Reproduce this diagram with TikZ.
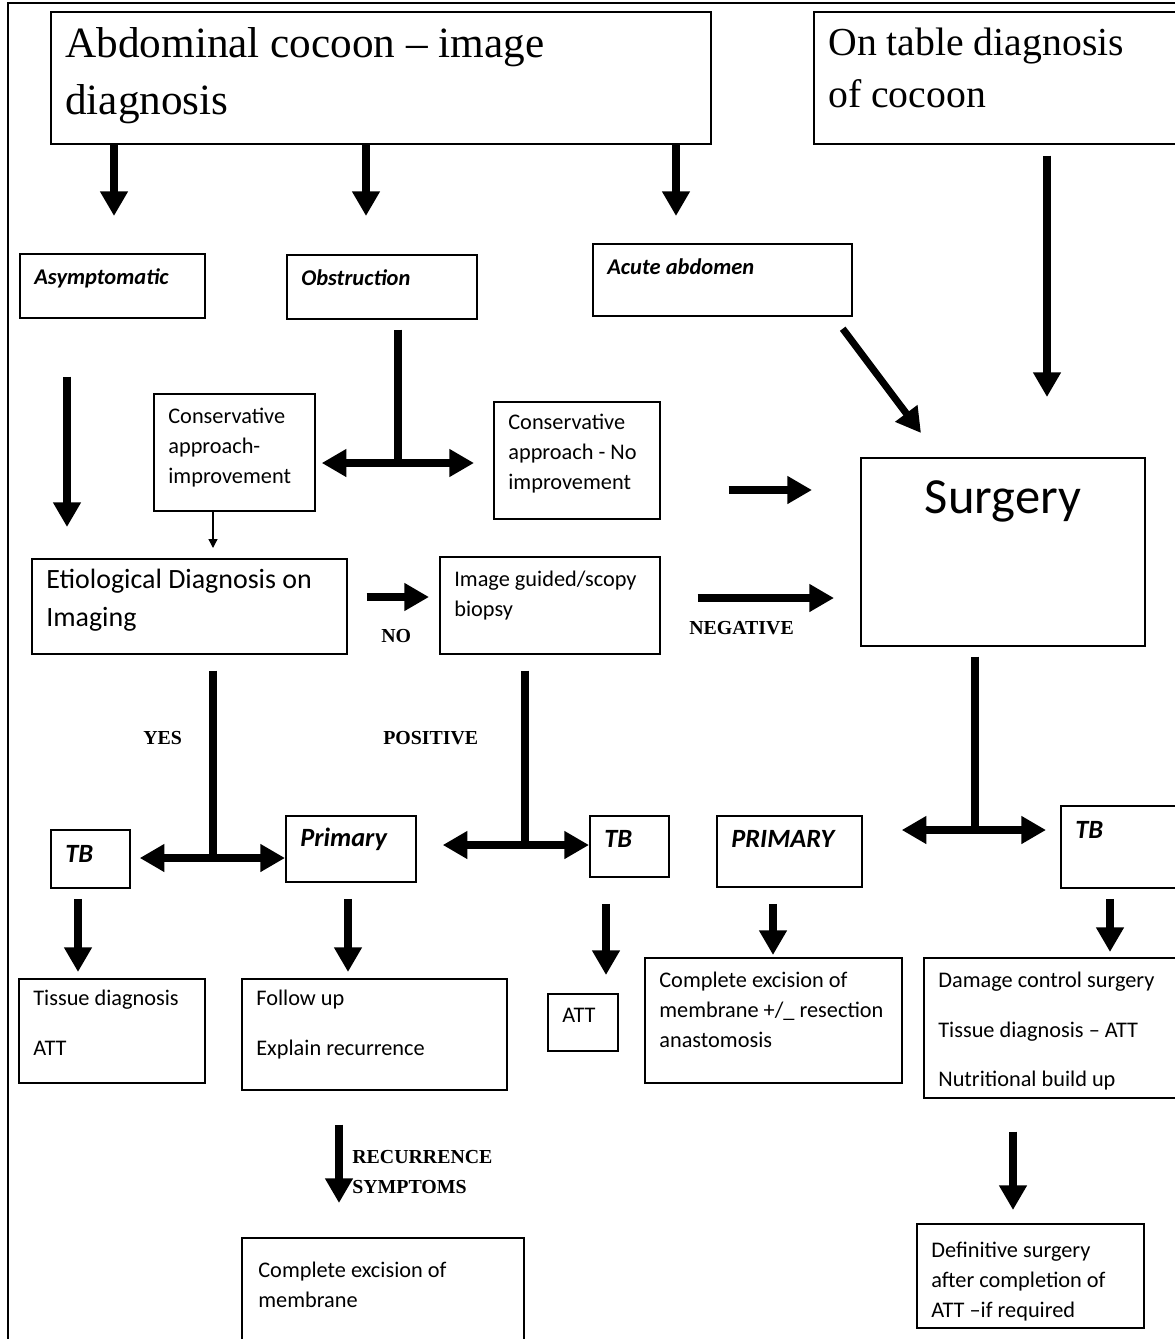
\documentclass[tikz,border=0pt]{standalone}
\usepackage{fontspec}
\setmainfont{Carlito}
\newfontfamily\serifnt{Liberation Serif}
\usetikzlibrary{arrows.meta}

\tikzset{
  box/.style={draw, line width=1pt, anchor=north west, inner sep=0pt},
  tl/.style={anchor=north west, align=left, inner xsep=0.3cm, inner ysep=0.3cm},
  smalltxt/.style={font=\fontsize{12.7}{17}\selectfont},
  widetxt/.style={font=\fontsize{12.7}{28.3}\selectfont},
  optxt/.style={font=\fontsize{12.8}{15}\selectfont\bfseries\itshape},
  bigop/.style={font=\fontsize{15}{18}\selectfont\bfseries\itshape},
  fat/.style={line width=4pt, -{Triangle[width=15pt,length=14pt]}},
  dbl/.style={line width=4pt, {Triangle[width=15pt,length=14pt]}-{Triangle[width=15pt,length=14pt]}},
  stem/.style={line width=4pt},
  thinarr/.style={line width=0.7pt, -{Triangle[width=5pt,length=5pt]}},
  cue/.style={font=\serifnt\fontsize{11.3}{17}\selectfont\bfseries, inner sep=0pt, anchor=base west},
}

\begin{document}
\begin{tikzpicture}[x=0.02cm, y=-0.02cm]
  \useasboundingbox (0,0) rectangle (1175,1339);
  \clip (0,0) rectangle (1175,1339);
  \draw[line width=1.2pt] (8,3) rectangle (1200,1360);

  % top row
  \node[box, minimum width=13.2cm, minimum height=2.64cm,
        label={[tl, inner ysep=0.33cm, font=\serifnt\fontsize{24.6}{32.3}\selectfont]north west:{Abdominal cocoon – image\\diagnosis}}] (title) at (50,11) {};
  \node[box, minimum width=7.6cm, minimum height=2.64cm,
        label={[tl, inner ysep=0.33cm, font=\serifnt\fontsize{22.6}{29.5}\selectfont]north west:{On table diagnosis\\of cocoon}}] (ontable) at (813,11) {};

  \node[box, minimum width=3.7cm, minimum height=1.28cm, label={[tl,optxt]north west:Asymptomatic}] (asym) at (19,253) {};
  \node[box, minimum width=3.8cm, minimum height=1.28cm, label={[tl,optxt]north west:Obstruction}] (obstr) at (286,254) {};
  \node[box, minimum width=5.18cm, minimum height=1.44cm, label={[tl,optxt]north west:Acute abdomen}] (acute) at (592,243) {};

  % middle
  \node[box, minimum width=3.22cm, minimum height=2.34cm,
        label={[tl,smalltxt]north west:{Conservative\\approach-\\improvement}}] (consyes) at (153,393) {};
  \node[box, minimum width=3.32cm, minimum height=2.34cm,
        label={[tl,smalltxt, inner ysep=0.26cm]north west:{Conservative\\approach - No\\improvement}}] (consno) at (493,401) {};
  \node[box, minimum width=6.3cm, minimum height=1.9cm,
        label={[tl, inner ysep=0.22cm, font=\fontsize{15.9}{21.5}\selectfont]north west:{Etiological Diagnosis on\\Imaging}}] (etio) at (31,558) {};
  \node[box, minimum width=4.4cm, minimum height=1.94cm,
        label={[tl,smalltxt]north west:{Image guided/scopy\\biopsy}}] (biopsy) at (439,556) {};
  \node[box, minimum width=5.68cm, minimum height=3.76cm,
        label={[anchor=north, inner sep=0.46cm, font=\fontsize{28.8}{34}\selectfont]north:Surgery}] (surgery) at (860,457) {};

  % second split
  \node[box, minimum width=1.58cm, minimum height=1.16cm, label={[tl,bigop, inner ysep=0.32cm]north west:TB}] (tbA) at (50,829) {};
  \node[box, minimum width=2.6cm, minimum height=1.32cm, label={[tl,bigop, inner ysep=0.26cm]north west:Primary}] (primA) at (285,815) {};
  \node[box, minimum width=1.58cm, minimum height=1.22cm, label={[tl,bigop]north west:TB}] (tbB) at (589,815) {};
  \node[box, minimum width=2.9cm, minimum height=1.42cm, label={[tl,bigop]north west:PRIMARY}] (primB) at (716,815) {};
  \node[box, minimum width=2.6cm, minimum height=1.64cm, label={[tl,bigop, inner ysep=0.32cm]north west:TB}] (tbC) at (1060,805) {};

  % outcomes
  \node[box, minimum width=3.72cm, minimum height=2.08cm,
        label={[tl,widetxt, inner ysep=0.23cm]north west:{Tissue diagnosis\\ATT}}] (tissue) at (18,978) {};
  \node[box, minimum width=5.3cm, minimum height=2.22cm,
        label={[tl,widetxt, inner ysep=0.23cm]north west:{Follow up\\Explain recurrence}}] (follow) at (241,978) {};
  \node[box, minimum width=1.4cm, minimum height=1.14cm,
        label={[tl,smalltxt]north west:ATT}] (attB) at (547,993) {};
  \node[box, minimum width=5.14cm, minimum height=2.5cm,
        label={[tl,smalltxt, inner ysep=0.29cm]north west:{Complete excision of\\membrane +/\_ resection\\anastomosis}}] (excise) at (644,957) {};
  \node[box, minimum width=5.4cm, minimum height=2.8cm,
        label={[tl,widetxt, inner ysep=0.29cm]north west:{Damage control surgery\\Tissue diagnosis – ATT\\Nutritional build up}}] (damage) at (923,957) {};
  \node[box, minimum width=5.64cm, minimum height=2.4cm,
        label={[tl,smalltxt, inner xsep=0.34cm, inner ysep=0.49cm]north west:{Complete excision of\\membrane}}] (excmem) at (241,1237) {};
  \node[box, minimum width=4.54cm, minimum height=2.08cm,
        label={[tl,smalltxt, inner ysep=0.37cm]north west:{Definitive surgery\\after completion of\\ATT –if required}}] (defin) at (916,1223) {};

  % arrow ends
  \coordinate (a1) at (114,216);
  \coordinate (a2) at (366,216);
  \coordinate (a3) at (676,216);
  \coordinate (a4) at (1047,397);
  \coordinate (a5) at (67,527);
  \coordinate (s1) at (398,463);
  \coordinate (c1) at (213,548);
  \coordinate (a6) at (812,490);
  \coordinate (a7) at (429,597);
  \coordinate (a8) at (834,598);
  \coordinate (a9) at (921,433);
  \coordinate (s2) at (213,858);
  \coordinate (s3) at (525,845);
  \coordinate (s4) at (975,830);
  \coordinate (b1) at (78,972);
  \coordinate (b2) at (348,972);
  \coordinate (b3) at (606,975);
  \coordinate (b4) at (773,955);
  \coordinate (b5) at (1110,952);
  \coordinate (b6) at (339,1203);
  \coordinate (b7) at (1013,1210);

  % connectors
  \draw[fat] (title.south -| a1) -- (a1);
  \draw[fat] (title.south -| a2) -- (a2);
  \draw[fat] (title.south -| a3) -- (a3);
  \draw[fat, shorten <=0.22cm] (ontable.south -| a4) -- (a4);
  \draw[fat, shorten <=1.16cm] (asym.south -| a5) -- (a5);
  \draw[stem, shorten <=0.2cm] (obstr.south -| s1) -- (s1);
  \draw[dbl, shorten <=0.12cm, shorten >=0.38cm] (consyes.east |- s1) -- (consno.west |- s1);
  \draw[thinarr] (consyes.south -| c1) -- (c1);
  \draw[fat, shorten <=1.36cm] (consno.east |- a6) -- (a6);
  \draw[fat, shorten <=0.38cm] (etio.east |- a7) -- (a7);
  \draw[fat, shorten <=0.74cm] (biopsy.east |- a8) -- (a8);
  \draw[fat, shorten <=0.3cm] ([xshift=-0.38cm]acute.south east) -- (a9);

  \draw[stem, shorten <=0.32cm] (etio.south -| s2) -- (s2);
  \draw[dbl, shorten <=0.18cm] (tbA.east |- s2) -- (primA.west |- s2);
  \draw[stem, shorten <=0.32cm] (biopsy.south -| s3) -- (s3);
  \draw[dbl, shorten <=0.52cm] (primA.east |- s3) -- (tbB.west |- s3);
  \draw[stem, shorten <=0.2cm] (surgery.south -| s4) -- (s4);
  \draw[dbl, shorten <=0.78cm, shorten >=0.28cm] (primB.east |- s4) -- (tbC.west |- s4);

  \draw[fat, shorten <=0.2cm] (tbA.south -| b1) -- (b1);
  \draw[fat, shorten <=0.32cm] (primA.south -| b2) -- (b2);
  \draw[fat, shorten <=0.52cm] (tbB.south -| b3) -- (b3);
  \draw[fat, shorten <=0.32cm] (primB.south -| b4) -- (b4);
  \draw[fat, shorten <=0.2cm] (tbC.south -| b5) -- (b5);
  \draw[fat, shorten <=0.68cm] (follow.south -| b6) -- (b6);
  \draw[fat, shorten <=0.66cm] (damage.south -| b7) -- (b7);

  % branch labels
  \node[cue] (lno) at (381,642) {NO};
  \node[cue] (lneg) at (689,634) {NEGATIVE};
  \node[cue] (lyes) at (143,744) {YES};
  \node[cue] (lpos) at (383,744) {POSITIVE};
  \node[cue, anchor=north west, align=left] (lrec) at (352,1150) {RECURRENCE\\SYMPTOMS};
\end{tikzpicture}
\end{document}
